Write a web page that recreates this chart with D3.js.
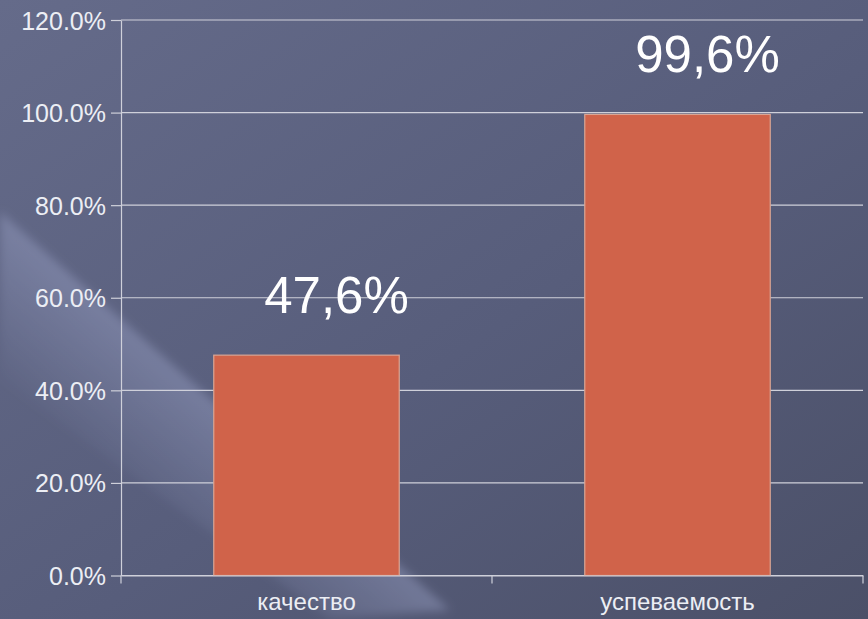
<!DOCTYPE html>
<html>
<head>
<meta charset="utf-8">
<script src="https://cdn.jsdelivr.net/npm/d3@7"></script>
<style>
  html, body { margin: 0; padding: 0; background: #555b78; }
  svg { display: block; }
  text { font-family: "Liberation Sans", Arial, sans-serif; }
</style>
</head>
<body>
<svg id="chart"></svg>
<script>
(function(){

let categories = ["качество", "успеваемость"];
let values = [0.476, 0.996];
let valueLabels = ["47,6%", "99,6%"];
let yTicks = [0, 0.2, 0.4, 0.6, 0.8, 1.0, 1.2];

let W = 868, H = 619;
let margin = {top: 20, right: 5, bottom: 43.5, left: 121},
  width = W - margin.left - margin.right,
  height = H - margin.top - margin.bottom;

let svg = d3.select("#chart")
  .attr("width", W)
  .attr("height", H);

// background
let defs = svg.append("defs");
let bg = defs.append("linearGradient")
  .attr("id", "bg")
  .attr("x1", 0).attr("y1", 0).attr("x2", 1).attr("y2", 1);
bg.append("stop").attr("offset", "0%").attr("stop-color", "#656b8a");
bg.append("stop").attr("offset", "55%").attr("stop-color", "#575d7b");
bg.append("stop").attr("offset", "100%").attr("stop-color", "#4b5068");

let streak = defs.append("linearGradient")
  .attr("id", "streak")
  .attr("gradientUnits", "userSpaceOnUse")
  .attr("x1", 200).attr("y1", 385).attr("x2", 110).attr("y2", 485);
streak.append("stop").attr("offset", "0%").attr("stop-color", "#a3abd0").attr("stop-opacity", 0.4);
streak.append("stop").attr("offset", "100%").attr("stop-color", "#a3abd0").attr("stop-opacity", 0);

defs.append("filter").attr("id", "soft")
  .attr("x", "-20%").attr("y", "-20%").attr("width", "140%").attr("height", "140%")
  .append("feGaussianBlur").attr("stdDeviation", 5);

svg.append("rect")
  .attr("width", W).attr("height", H)
  .attr("fill", "url(#bg)");

svg.append("path")
  .attr("d", "M0,212 L450,610 L330,619 L0,380 Z")
  .attr("fill", "url(#streak)")
  .attr("filter", "url(#soft)");

let g = svg.append("g")
  .attr("transform", "translate(" + margin.left + "," + margin.top + ")");

let x = d3.scaleBand().domain(categories).range([0, width]).padding(0);
let y = d3.scaleLinear().domain([0, 1.2]).range([height, 0]);

// gridlines
g.selectAll(".grid")
  .data(yTicks)
  .enter()
  .append("line")
  .attr("class", "grid")
  .attr("x1", 0).attr("x2", width)
  .attr("y1", d => y(d)).attr("y2", d => y(d))
  .attr("stroke", "#cfd0da")
  .attr("stroke-width", 1.2);

// bars
let barW = x.bandwidth() * 0.5;
g.selectAll(".bar")
  .data(values)
  .enter()
  .append("rect")
  .attr("class", "bar")
  .attr("x", (d, i) => x(categories[i]) + (x.bandwidth() - barW) / 2)
  .attr("y", d => y(d))
  .attr("width", barW)
  .attr("height", d => height - y(d))
  .attr("fill", "#d0634a")
  .attr("stroke", "#d9a594")
  .attr("stroke-width", 1.2);

// y axis
let yAxis = g.append("g")
  .call(d3.axisLeft(y).tickValues(yTicks).tickFormat(d3.format(".1%"))
    .tickSizeInner(10).tickSizeOuter(0).tickPadding(5));
yAxis.select(".domain").attr("stroke", "#cfd0da").attr("stroke-width", 1.2);
yAxis.selectAll(".tick line").attr("stroke", "#cfd0da").attr("stroke-width", 1.2);
yAxis.selectAll(".tick text")
  .attr("fill", "#eceef4")
  .style("font-size", "25px")
  .attr("dy", "0.36em");

// x axis
let xAxis = g.append("g")
  .attr("transform", "translate(0," + height + ")")
  .call(d3.axisBottom(x).tickSize(0).tickPadding(17));
xAxis.select(".domain").attr("stroke", "#cfd0da").attr("stroke-width", 1.2);
xAxis.selectAll(".tick text")
  .attr("fill", "#eceef4")
  .style("font-size", "24px");

let edges = categories.map(c => x(c)).concat([width]);
xAxis.selectAll(".edge")
  .data(edges)
  .enter()
  .append("line")
  .attr("class", "edge")
  .attr("x1", d => d).attr("x2", d => d)
  .attr("y1", 0).attr("y2", 8)
  .attr("stroke", "#cfd0da")
  .attr("stroke-width", 1.2);

// value labels
g.selectAll(".val")
  .data(values)
  .enter()
  .append("text")
  .attr("class", "val")
  .attr("x", (d, i) => x(categories[i]) + x.bandwidth() / 2 + 30)
  .attr("y", d => y(d) - 42)
  .attr("text-anchor", "middle")
  .attr("fill", "#ffffff")
  .style("font-size", "51px")
  .text((d, i) => valueLabels[i]);

})();
</script>
</body>
</html>
